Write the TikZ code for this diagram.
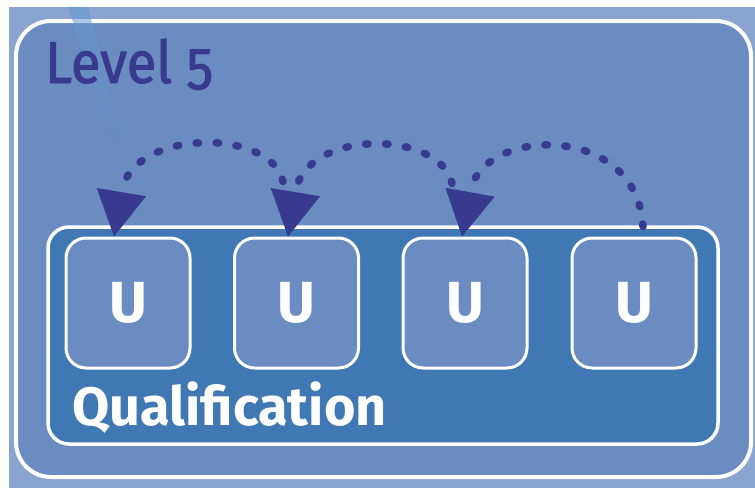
\documentclass[tikz,border=0pt]{standalone}
\usepackage{fontspec}
\setmainfont{Fira Sans}[Numbers=OldStyle]
\newfontfamily\titlefont{Fira Sans}[Numbers=OldStyle, FakeBold=1.6]
\usetikzlibrary{arrows.meta,fadings}
\definecolor{bglight}{RGB}{138,163,207}
\definecolor{boxblue}{RGB}{106,140,192}
\definecolor{qualblue}{RGB}{63,120,179}
\definecolor{darkblue}{RGB}{56,58,143}
\definecolor{stripeblue}{RGB}{100,152,208}
\tikzset{
  outerbox/.style={draw=white, line width=4pt, fill=boxblue, rounded corners=35pt, inner sep=0pt},
  qualbox/.style={draw=white, line width=3.5pt, fill=qualblue, rounded corners=21pt, inner sep=0pt},
  ubox/.style={draw=white, line width=3pt, fill=boxblue, rounded corners=20pt, inner sep=0pt,
    minimum width=124pt, minimum height=130pt, text=white,
    font=\bfseries\fontsize{58}{58}\selectfont},
  hop/.style={draw=darkblue, line width=7.5pt, line cap=round, dash pattern=on 2.5pt off 17.5pt,
    -{Triangle[length=45pt,width=50pt,line width=0pt]}},
}
\begin{document}
\begin{tikzpicture}[x=1pt,y=-1pt]
\useasboundingbox (0,0) rectangle (755,488);
\fill[white] (0,0) rectangle (755,488);
\fill[bglight] (9,7) rectangle (755,488);
\node[outerbox, minimum width=735pt, minimum height=456pt] (level) at (383.5,249) {};
\fill[stripeblue, opacity=0.6, path fading=south] (68,7) -- (88,7) -- (122,140) -- (112,140) -- cycle;
\node[anchor=base west, text=darkblue, inner sep=0pt, xscale=0.92, font=\titlefont\fontsize{59}{59}\selectfont] (title) at (45,83) {Level 5};
\node[qualbox, minimum width=670pt, minimum height=217pt] (qual) at (383,335.5) {};
\node[anchor=base west, text=white, inner sep=0pt, font=\bfseries\fontsize{54}{54}\selectfont] (qlabel) at (72,425) {Qualification};
\node[ubox] (u1) at (128,303) {U};
\node[ubox] (u2) at (296.5,303) {U};
\node[ubox] (u3) at (465,303) {U};
\node[ubox] (u4) at (634,303) {U};
\coordinate (s4) at ([xshift=9pt,yshift=10pt]u4.north);
\coordinate (s3) at ([xshift=-13pt,yshift=53pt]u3.north);
\coordinate (s2) at ([xshift=-13.5pt,yshift=55pt]u2.north);
\coordinate (t3) at ([xshift=-3pt]u3.north);
\coordinate (t2) at ([xshift=-8.5pt]u2.north);
\coordinate (t1) at ([xshift=-14pt]u1.north);
\draw[hop] (s4) .. controls +(-6,-105) and +(20,-110) .. (t3);
\draw[hop] (s3) .. controls +(-12,-54) and +(18,-108) .. (t2);
\draw[hop] (s2) .. controls +(-12,-54) and +(18,-108) .. (t1);
\end{tikzpicture}
\end{document}
